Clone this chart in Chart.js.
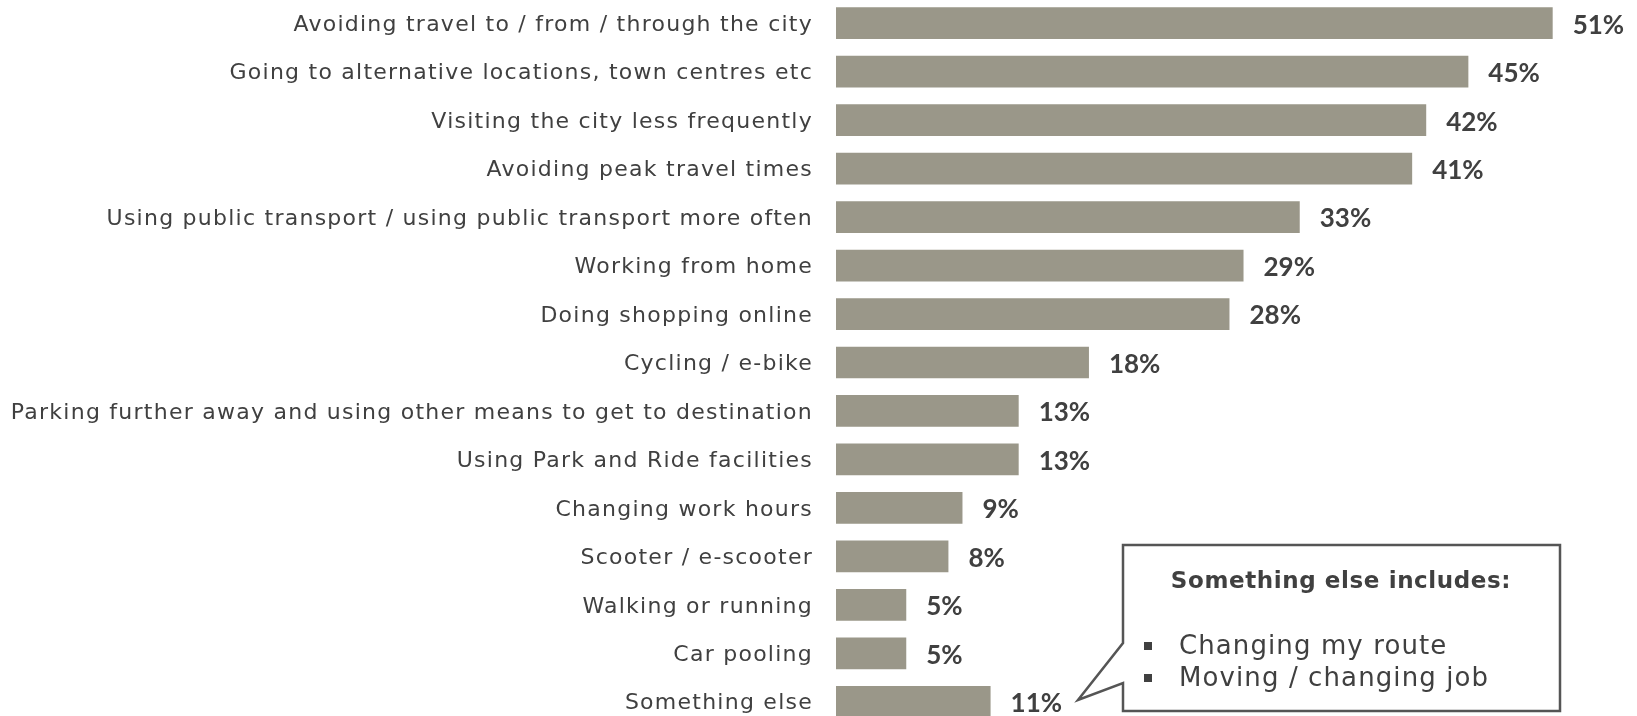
<!DOCTYPE html>
<html>
<head>
<meta charset="utf-8">
<script src="https://cdn.jsdelivr.net/npm/chart.js@4"></script>
<style>
    html, body { margin: 0; padding: 0; background: #fff; overflow: hidden; }
    #wrap { position: absolute; left: 0; top: -1px; width: 1637px; height: 727px; }
</style>
</head>
<body>
<div id="wrap"><canvas id="chart"></canvas></div>
<script>
const categories = [
    "Avoiding travel to / from / through the city",
    "Going to alternative locations, town centres etc",
    "Visiting the city less frequently",
    "Avoiding peak travel times",
    "Using public transport / using public transport more often",
    "Working from home",
    "Doing shopping online",
    "Cycling / e-bike",
    "Parking further away and using other means to get to destination",
    "Using Park and Ride facilities",
    "Changing work hours",
    "Scooter / e-scooter",
    "Walking or running",
    "Car pooling",
    "Something else"
];
const values = [51, 45, 42, 41, 33, 29, 28, 18, 13, 13, 9, 8, 5, 5, 11];

const calloutTitle = "Something else includes:";
const calloutItems = ["Changing my route", "Moving / changing job"];

const labelFont = "'DejaVu Sans', sans-serif";
const textColor = "#404040";

// the category labels are wide (Montserrat-like), so space the letters out a bit
const wideLabels = {
    id: "wideLabels",
    beforeDraw(chart) {
        chart.ctx.letterSpacing = "1.25px";
    },
    beforeDatasetsDraw(chart) {
        chart.ctx.letterSpacing = "0px";
    }
};

// value labels at the end of each bar
const valueLabels = {
    id: "valueLabels",
    afterDatasetsDraw(chart) {
        const ctx = chart.ctx;
        const meta = chart.getDatasetMeta(0);
        ctx.save();
        ctx.font = "bold 26px Lato, sans-serif";
        ctx.fillStyle = textColor;
        ctx.textAlign = "left";
        ctx.textBaseline = "middle";
        meta.data.forEach((bar, i) => {
            ctx.fillText(values[i] + "%", bar.x + 20, bar.y + 2);
        });
        ctx.restore();
    }
};

// callout box for "Something else"
const callout = {
    id: "callout",
    afterDraw(chart) {
        const ctx = chart.ctx;
        const oy = 1; // canvas is shifted up by 1px
        ctx.save();
        ctx.strokeStyle = "#555555";
        ctx.lineWidth = 2.5;
        ctx.fillStyle = "#ffffff";
        ctx.beginPath();
        ctx.moveTo(1123, 545 + oy);
        ctx.lineTo(1560, 545 + oy);
        ctx.lineTo(1560, 711 + oy);
        ctx.lineTo(1123, 711 + oy);
        ctx.lineTo(1123, 683 + oy);
        ctx.lineTo(1078, 700 + oy);
        ctx.lineTo(1123, 643 + oy);
        ctx.closePath();
        ctx.fill();
        ctx.stroke();

        ctx.fillStyle = textColor;
        ctx.textBaseline = "middle";
        ctx.textAlign = "center";
        ctx.letterSpacing = "0.6px";
        ctx.font = "bold 23px " + labelFont;
        ctx.fillText(calloutTitle, 1341, 582 + oy);

        ctx.textAlign = "left";
        ctx.letterSpacing = "1.1px";
        ctx.font = "26px " + labelFont;
        calloutItems.forEach((t, i) => {
            const y = 646 + i * 32 + oy;
            ctx.fillRect(1144, y - 4, 8, 8);
            ctx.fillText(t, 1179, y + 1);
        });
        ctx.restore();
    }
};

const ctx = document.getElementById("chart");

const chart = new Chart(ctx, {
    type: "bar",
    data: {
        labels: categories,
        datasets: [{
            data: values,
            backgroundColor: "#9a9789",
            categoryPercentage: 1,
            barPercentage: 0.655
        }]
    },
    options: {
        indexAxis: "y",
        responsive: true,
        maintainAspectRatio: false,
        animation: false,
        layout: { padding: 0 },
        plugins: {
            legend: { display: false },
            tooltip: { enabled: false }
        },
        scales: {
            x: {
                display: false,
                min: 0,
                max: 57
            },
            y: {
                grid: { display: false, drawTicks: false },
                border: { display: false },
                afterFit(scale) {
                    scale.width = 836;
                    // no extra room above / below the bars
                    scale.paddingTop = 0;
                    scale.paddingBottom = 0;
                },
                ticks: {
                    padding: 23,
                    labelOffset: 2,
                    color: textColor,
                    font: { family: labelFont, size: 22 }
                }
            }
        }
    },
    plugins: [wideLabels, valueLabels, callout]
});
</script>
</body>
</html>
